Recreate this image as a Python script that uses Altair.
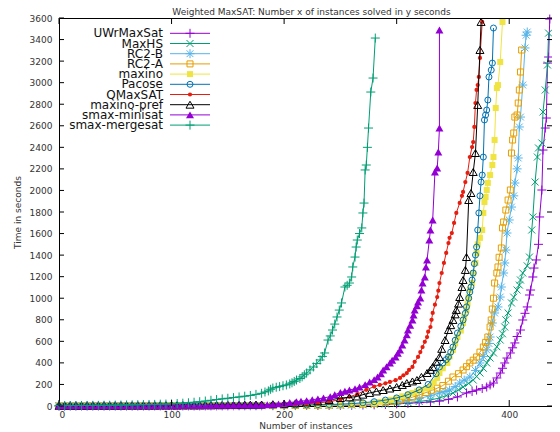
import altair as alt
import pandas as pd

# ---------------- data ----------------
TITLE = "Weighted MaxSAT: Number x of instances solved in y seconds"
NAMES = ["UWrMaxSat", "MaxHS", "RC2-B", "RC2-A", "maxino", "Pacose",
         "QMaxSAT", "maxino-pref", "smax-minisat", "smax-mergesat"]
COLORS = ["#9400D3", "#009E73", "#56B4E9", "#E69F00", "#F0E442", "#0072B2",
          "#E51E10", "#000000", "#9400D3", "#009E73"]

X_TICKS = [0, 100, 200, 300, 400]
Y_TICKS = [0, 200, 400, 600, 800, 1000, 1200, 1400, 1600, 1800, 2000, 2200,
           2400, 2600, 2800, 3000, 3200, 3400, 3600]

# instances of the flat start of every curve
LOW_X = [0, 5, 10, 15, 20, 25, 30, 35, 40, 45, 50, 55, 60, 65, 70, 75, 80, 85, 90, 95,
         100, 105, 110, 115, 120, 125, 130, 135, 140, 145, 150, 155, 160, 165, 170, 175, 180]

uwr_low = [0, 0, 1, 1, 1, 1, 1, 1, 1, 1, 1, 1, 1, 1, 1, 1, 1, 2, 2, 2,
           2, 2, 2, 2, 2, 2, 2, 2, 2, 2, 2, 3, 3, 3, 3, 3, 3]
uwr_high = [(190, 3), (200, 4), (210, 4), (220, 5), (230, 5), (240, 6), (250, 6), (260, 7), (270, 9),
            (280, 11), (290, 14), (300, 20), (310, 25), (320, 31), (330, 38), (338, 46), (346, 62),
            (354, 84), (362, 121), (367, 135), (371, 148), (376, 162), (380, 176), (383, 195),
            (386, 213), (389, 260), (392, 306), (394, 350), (396, 399), (398, 445), (401, 492),
            (403, 540), (405, 585), (407, 645), (410, 705), (412, 798), (414, 860), (416, 919),
            (418, 1030), (419, 1076), (421, 1197), (422, 1280), (424, 1355), (426, 1500),
            (427, 1754), (429, 2004), (430, 2375), (432, 2579), (433, 2672), (434, 3182),
            (435, 3238), (436, 3590)]

maxhs_low = [0, 0, 1, 1, 1, 1, 1, 1, 1, 1, 1, 1, 1, 1, 1, 1, 1, 1, 1, 1,
             2, 2, 2, 2, 2, 2, 2, 2, 2, 2, 3, 3, 3, 3, 3, 3, 3]
maxhs_high = [(190, 4), (200, 4), (210, 5), (220, 5), (230, 6), (240, 7), (250, 8), (260, 10), (270, 12),
              (280, 15), (290, 19), (300, 25), (310, 32), (320, 42), (330, 56), (338, 74), (344, 97),
              (350, 121), (355, 150), (359, 176), (364, 210), (368, 241), (371, 275), (374, 306),
              (377, 350), (380, 399), (383, 445), (386, 492), (389, 550), (392, 612), (394, 670),
              (396, 733), (397, 800), (399, 863), (402, 956), (404, 1010), (407, 1076), (409, 1122),
              (410, 1169), (412, 1234), (416, 1300), (418, 1382), (420, 1633), (421, 1754),
              (423, 2078), (425, 2310), (426, 2394), (429, 2440), (430, 2728), (432, 2932),
              (434, 3164), (435, 3460)]

rc2b_low = [1, 1, 1, 1, 1, 1, 1, 1, 1, 1, 1, 1, 1, 1, 2, 2, 2, 2, 2, 2,
            2, 2, 2, 2, 2, 2, 3, 3, 3, 3, 3, 3, 3, 3, 4, 4, 4]
rc2b_high = [(190, 5), (200, 5), (210, 6), (220, 7), (230, 8), (240, 9), (250, 10), (260, 12), (270, 15),
             (280, 20), (290, 28), (300, 40), (310, 53), (320, 70), (330, 95), (338, 121), (343, 135),
             (347, 148), (352, 180), (356, 213), (360, 240), (365, 269), (370, 330), (374, 399),
             (377, 460), (380, 520), (382, 580), (383, 640), (385, 770), (387, 863), (390, 919),
             (392, 1011), (393, 1104), (395, 1234), (396, 1327), (397, 1447), (398, 1605),
             (400, 1726), (402, 1846), (404, 1950), (405, 2069), (407, 2200), (408, 2301),
             (409, 2589), (410, 2681), (412, 2978), (414, 3322), (415, 3440), (416, 3470)]

rc2a_low = [1, 1, 1, 1, 1, 1, 1, 1, 1, 1, 1, 1, 1, 1, 2, 2, 2, 2, 2, 2,
            2, 2, 2, 2, 2, 2, 3, 3, 3, 3, 3, 3, 3, 3, 4, 4, 4]
rc2a_high = [(190, 4), (200, 5), (210, 5), (220, 6), (230, 7), (240, 8), (250, 10), (260, 13), (270, 17),
             (280, 23), (290, 32), (297, 44), (303, 56), (308, 68), (314, 82), (320, 102), (326, 125),
             (331, 145), (336, 165), (341, 190), (346, 230), (350, 269), (355, 300), (359, 334),
             (362, 365), (365, 399), (368, 425), (371, 455), (374, 500), (377, 547), (379, 590),
             (381, 640), (383, 733), (384, 798), (385, 900), (386, 1000), (387, 1141), (389, 1234),
             (390, 1290), (391, 1380), (393, 1466), (394, 1652), (395, 1707), (397, 1818),
             (399, 1911), (401, 2004), (402, 2347), (403, 2468), (404, 2533), (405, 2681),
             (407, 2700), (408, 2811), (409, 2932), (410, 3099), (411, 3303)]

maxino_low = [1, 1, 1, 1, 1, 1, 1, 1, 1, 1, 1, 1, 2, 2, 2, 2, 2, 2, 2, 2,
              2, 2, 3, 3, 3, 3, 3, 3, 3, 3, 3, 3, 4, 4, 4, 4, 5]
maxino_high = [(190, 5), (200, 6), (210, 7), (220, 8), (230, 9), (240, 10), (250, 12), (260, 15),
               (270, 20), (280, 28), (285, 37), (290, 45), (295, 58), (300, 74), (305, 90),
               (310, 105), (314, 121), (318, 135), (322, 150), (326, 163), (330, 176), (333, 220),
               (336, 260), (338, 306), (341, 350), (345, 399), (347, 460), (350, 520), (352, 580),
               (354, 640), (357, 700), (359, 770), (360, 830), (362, 891), (363, 950), (364, 1011),
               (365, 1076), (367, 1141), (368, 1230), (370, 1327), (371, 1420), (372, 1500),
               (374, 1560), (376, 1633), (377, 1791), (378, 1893), (379, 1939), (380, 2004),
               (381, 2070), (383, 2143), (385, 2236), (386, 2310), (387, 2468), (388, 2765),
               (389, 2950), (390, 2978), (392, 3192), (394, 3563)]

pacose_low = [1, 1, 1, 1, 1, 1, 1, 1, 1, 1, 2, 2, 2, 2, 2, 2, 2, 2, 2, 2,
              3, 3, 3, 3, 3, 3, 3, 3, 4, 4, 4, 4, 5, 5, 5, 5, 6]
pacose_high = [(190, 7), (200, 8), (210, 9), (220, 10), (230, 12), (240, 14), (250, 17), (260, 22),
               (270, 30), (280, 40), (290, 55), (300, 75), (310, 105), (320, 150), (328, 200),
               (335, 300), (338, 362), (341, 399), (344, 430), (346, 455), (348, 500), (350, 547),
               (352, 610), (354, 677), (357, 740), (359, 798), (361, 860), (362, 919), (364, 1000),
               (365, 1058), (366, 1104), (367, 1169), (368, 1234), (369, 1320), (370, 1401),
               (371, 1475), (372, 1633), (373, 1791), (374, 1950), (375, 2078), (376, 2143),
               (377, 2310), (378, 2654), (379, 2700), (380, 2746), (381, 2839), (382, 3053),
               (384, 3117), (385, 3182), (386, 3507)]

qmaxsat_low = [1, 1, 1, 1, 1, 1, 1, 1, 2, 2, 2, 2, 2, 2, 2, 2, 3, 3, 3, 3,
               3, 3, 4, 4, 4, 4, 5, 5, 5, 5, 6, 6, 7, 7, 8, 8, 9]
qmaxsat_high = [(190, 11), (200, 13), (210, 16), (220, 20), (230, 28), (240, 40), (250, 60), (258, 85),
                (265, 110), (273, 150), (280, 180), (285, 195), (290, 210), (294, 223), (299, 240),
                (303, 260), (306, 285), (309, 306), (311, 335), (314, 362), (316, 410), (319, 455),
                (321, 500), (323, 547), (325, 595), (327, 640), (328, 690), (330, 733), (331, 800),
                (332, 863), (334, 940), (336, 1011), (337, 1070), (338, 1141), (340, 1234),
                (342, 1327), (344, 1420), (346, 1512), (347, 1560), (349, 1605), (351, 1698),
                (353, 1791), (356, 1884), (358, 1950), (359, 1986), (361, 2078), (363, 2162),
                (365, 2310), (367, 2403), (368, 2449), (369, 2589), (370, 2811), (371, 2932),
                (372, 2978), (373, 3053), (374, 3229), (376, 3563)]

mpref_low = [2, 2, 2, 2, 2, 2, 3, 3, 3, 3, 3, 3, 4, 4, 4, 4, 4, 4, 5, 5,
             5, 5, 6, 6, 6, 6, 7, 7, 8, 8, 9, 9, 10, 11, 12, 13, 14]
mpref_high = [(190, 17), (200, 20), (210, 25), (220, 32), (230, 42), (240, 55), (250, 74), (258, 80),
              (265, 88), (270, 105), (276, 121), (282, 135), (288, 148), (294, 162), (300, 176),
              (305, 195), (309, 213), (314, 228), (318, 241), (322, 270), (327, 306), (330, 335),
              (332, 362), (335, 410), (338, 455), (340, 530), (343, 612), (346, 705), (348, 750),
              (350, 798), (352, 850), (353, 891), (355, 950), (356, 1011), (358, 1104), (359, 1169),
              (361, 1262), (362, 1382), (364, 1911), (366, 1976), (368, 2171), (370, 2347),
              (372, 2793), (374, 3303), (375, 3563)]

sminisat_low = [1, 1, 1, 1, 1, 1, 2, 2, 2, 2, 2, 2, 2, 2, 3, 3, 3, 3, 3, 3,
                3, 3, 4, 4, 4, 4, 5, 5, 6, 6, 7, 7, 8, 8, 9, 9, 10]
sminisat_high = [(185, 12), (190, 15), (195, 20), (200, 25), (205, 32), (211, 40), (215, 45), (220, 50),
                 (225, 58), (230, 66), (235, 75), (241, 86), (245, 105), (250, 125), (254, 137),
                 (258, 148), (263, 160), (267, 176), (272, 198), (276, 223), (280, 245),
                 (283, 269), (286, 300), (288, 334), (291, 365), (294, 399), (296, 425), (299, 455),
                 (301, 490), (303, 520), (305, 565), (307, 612), (309, 660), (310, 705), (312, 750),
                 (314, 798), (315, 845), (316, 891), (318, 930), (319, 965), (321, 1002), (322, 1076),
                 (323, 1141), (325, 1197), (326, 1290), (327, 1355), (329, 1540), (330, 1633),
                 (332, 1726), (334, 2171), (336, 2208), (337, 2357), (338, 2579), (338, 3488)]

smerge_low = [3, 3, 4, 4, 5, 5, 6, 6, 7, 7, 8, 9, 10, 11, 12, 13, 14, 15, 17, 18,
              20, 23, 26, 30, 35, 40, 46, 53, 60, 66, 72, 78, 84, 91, 98, 108, 118]
smerge_high = [(183, 130), (186, 140), (188, 155), (190, 167), (193, 174), (196, 180), (199, 188),
               (202, 195), (205, 205), (207, 215), (209, 228), (211, 241), (214, 255), (216, 270),
               (218, 290), (220, 306), (223, 335), (226, 362), (229, 395), (232, 427), (234, 460),
               (236, 492), (239, 612), (241, 650), (243, 705), (245, 760), (247, 826), (249, 890),
               (251, 956), (254, 1104), (256, 1120), (258, 1141), (260, 1197), (261, 1290),
               (263, 1382), (264, 1475), (265, 1540), (267, 1600), (269, 1652), (270, 1791),
               (271, 1883), (272, 2190), (273, 2236), (274, 2400), (275, 2579), (277, 2913),
               (279, 3043), (281, 3414)]

LOWS = [uwr_low, maxhs_low, rc2b_low, rc2a_low, maxino_low, pacose_low,
        qmaxsat_low, mpref_low, sminisat_low, smerge_low]
HIGHS = [uwr_high, maxhs_high, rc2b_high, rc2a_high, maxino_high, pacose_high,
         qmaxsat_high, mpref_high, sminisat_high, smerge_high]

# ---------------- style ----------------
PLUS = "M-1,0L1,0M0,-1L0,1"
CROSS = "M-1,-1L1,1M-1,1L1,-1"
STAR = "M-1,0L1,0M0,-1L0,1M-0.75,-0.75L0.75,0.75M-0.75,0.75L0.75,-0.75"
MARKERS = [(PLUS, 81, False), (CROSS, 49, False), (STAR, 81, False), ("square", 36, False),
           ("square", 36, True), ("circle", 36, False), ("circle", 18, True),
           ("triangle-up", 64, False), ("triangle-up", 64, True), (PLUS, 81, False)]

W, H = 493, 388
XMAX, YMAX = 438, 3600
FONT = "DejaVu Sans"
TXT = "#333333"

xscale = alt.Scale(domain=[0, XMAX], nice=False, zero=False)
yscale = alt.Scale(domain=[0, YMAX], nice=False)

x_axis = alt.Axis(values=X_TICKS, format="d", ticks=False, domain=False, grid=False,
                  labelFont=FONT, labelFontSize=9, labelColor=TXT, labelPadding=4,
                  title="Number of instances", titleFont=FONT, titleFontSize=9,
                  titleFontWeight="normal", titleColor=TXT, titlePadding=2)
y_axis = alt.Axis(values=Y_TICKS, format="d", ticks=False, domain=False, grid=False,
                  labelFont=FONT, labelFontSize=9, labelColor=TXT, labelPadding=7,
                  title="Time in seconds", titleFont=FONT, titleFontSize=9,
                  titleFontWeight="normal", titleColor=TXT, titlePadding=7)

EX = alt.X("n:Q", scale=xscale, axis=x_axis)
EY = alt.Y("t:Q", scale=yscale, axis=y_axis)

layers = []
for i, name in enumerate(NAMES):
    rows = list(zip(LOW_X, LOWS[i])) + HIGHS[i]
    df = pd.DataFrame(rows, columns=["n", "t"])
    df["k"] = range(len(df))
    col = COLORS[i]
    shape, size, filled = MARKERS[i]
    layers.append(alt.Chart(df).mark_line(color=col, strokeWidth=1, clip=True)
                  .encode(x=EX, y=EY, order=alt.Order("k:Q")))
    layers.append(alt.Chart(df).mark_point(shape=shape, size=size, filled=filled, color=col,
                                           strokeWidth=1, opacity=1)
                  .encode(x=EX, y=EY))

# inward ticks on all four sides (gnuplot style)
ytk = pd.DataFrame({"t": Y_TICKS})
xtk = pd.DataFrame({"n": X_TICKS})
layers.append(alt.Chart(ytk).mark_rule(color="black", strokeWidth=1)
              .encode(y=EY, x=alt.value(0), x2=alt.value(5)))
layers.append(alt.Chart(ytk).mark_rule(color="black", strokeWidth=1)
              .encode(y=EY, x=alt.value(W - 5), x2=alt.value(W)))
layers.append(alt.Chart(xtk).mark_rule(color="black", strokeWidth=1)
              .encode(x=EX, y=alt.value(H - 6), y2=alt.value(H)))
layers.append(alt.Chart(xtk).mark_rule(color="black", strokeWidth=1)
              .encode(x=EX, y=alt.value(0), y2=alt.value(6)))

# key (label left, sample right)
for i, name in enumerate(NAMES):
    ly = 15.3 + i * 10.2
    d = pd.DataFrame({"label": [name]})
    shape, size, filled = MARKERS[i]
    layers.append(alt.Chart(d).mark_text(align="right", baseline="middle", font=FONT,
                                         fontSize=12, color="#111111")
                  .encode(x=alt.value(104), y=alt.value(ly), text="label:N"))
    layers.append(alt.Chart(d).mark_rule(color=COLORS[i], strokeWidth=1)
                  .encode(x=alt.value(111), x2=alt.value(151), y=alt.value(ly)))
    layers.append(alt.Chart(d).mark_point(shape=shape, size=size, filled=filled, color=COLORS[i],
                                          strokeWidth=1, opacity=1)
                  .encode(x=alt.value(131), y=alt.value(ly)))

# chart title as text above the frame
layers.append(alt.Chart(pd.DataFrame({"label": [TITLE]}))
              .mark_text(align="center", baseline="alphabetic", font=FONT, fontSize=9, color=TXT)
              .encode(x=alt.value(W / 2 + 6), y=alt.value(-3), text="label:N"))

chart = alt.layer(*layers).properties(
    width=W, height=H,
    autosize=alt.AutoSizeParams(type="none"),
    padding={"left": 51, "top": 10, "right": 0, "bottom": 24},
).configure_view(stroke="black", strokeWidth=1)

chart.save("out.html", embed_options={"renderer": "svg", "actions": False})
